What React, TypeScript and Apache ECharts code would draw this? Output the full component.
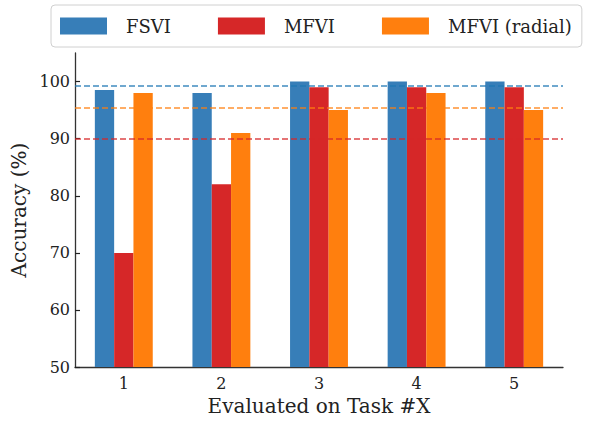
import React, { useEffect, useRef } from "react";
import * as echarts from "echarts";

// Tasks the model is evaluated on
const tasks = ["1", "2", "3", "4", "5"];

// Accuracy (%) per method, one value per task
const fsvi = [98.5, 98, 100, 100, 100];
const mfvi = [70, 82, 99, 99, 99];
const mfviRadial = [98, 91, 95, 98, 95];

// Reference accuracies drawn as dashed horizontal lines
const fsviRef = 99.35;
const mfviRef = 89.9;
const mfviRadialRef = 95.4;

// Y-axis tick values
const yTicks = [50, 60, 70, 80, 90, 100];

const FONT = "DejaVu Serif";
const C_BLUE = "#377eb8";
const C_RED = "#d62728";
const C_ORANGE = "#ff7f0e";

function refLine(value: number, color: string) {
  return {
    silent: true,
    symbol: "none",
    label: { show: false },
    lineStyle: { color, width: 1.5, type: [6, 3], opacity: 0.85 },
    data: [{ yAxis: value }],
    z: 10,
  };
}

export default function App() {
  const ref = useRef<HTMLDivElement>(null);

  useEffect(() => {
    if (!ref.current) return;
    const chart = echarts.init(ref.current, undefined, { renderer: "svg" });
    chart.setOption({
      animation: false,
      backgroundColor: "#ffffff",
      grid: { left: 75, top: 53, right: 27, bottom: 50.3, containLabel: false },
      legend: {
        left: 51,
        top: 5,
        orient: "horizontal",
        selectedMode: false,
        icon: "rect",
        itemWidth: 47,
        itemHeight: 17,
        itemGap: 47,
        padding: [12, 10, 12, 9],
        borderColor: "#d0d0d0",
        borderWidth: 1,
        borderRadius: 4,
        textStyle: {
          fontFamily: FONT,
          fontSize: 18,
          color: "#222",
          padding: [0, 0, 0, 14],
        },
        data: ["FSVI", "MFVI", "MFVI (radial)"],
      },
      xAxis: {
        type: "category",
        data: tasks,
        name: "Evaluated on Task #X",
        nameLocation: "middle",
        nameGap: 26,
        nameTextStyle: { fontFamily: FONT, fontSize: 20, color: "#222" },
        axisLine: { lineStyle: { color: "#333", width: 1.3 } },
        axisTick: { inside: true, alignWithLabel: true, length: 5, lineStyle: { color: "#222", width: 1.2 } },
        axisLabel: { fontFamily: FONT, fontSize: 16, color: "#222", margin: 8 },
        splitLine: { show: false },
      },
      yAxis: {
        type: "value",
        min: 50,
        max: 105,
        interval: 10,
        name: "Accuracy (%)",
        nameLocation: "middle",
        nameGap: 38,
        nameRotate: 90,
        nameTextStyle: { fontFamily: FONT, fontSize: 20, color: "#222" },
        axisLine: { show: true, lineStyle: { color: "#333", width: 1.3 } },
        axisTick: {
          show: true,
          inside: true,
          length: 5,
          customValues: yTicks,
          lineStyle: { color: "#222", width: 1.2 },
        },
        axisLabel: {
          fontFamily: FONT,
          fontSize: 16,
          color: "#222",
          margin: 5,
          customValues: yTicks,
        },
        splitLine: { show: false },
      },
      series: [
        {
          name: "FSVI",
          type: "bar",
          data: fsvi,
          barWidth: 19.3,
          barGap: "0%",
          itemStyle: { color: C_BLUE },
          markLine: refLine(fsviRef, "#1f77b4"),
        },
        {
          name: "MFVI",
          type: "bar",
          data: mfvi,
          barWidth: 19.3,
          barGap: "0%",
          itemStyle: { color: C_RED },
          markLine: refLine(mfviRef, C_RED),
        },
        {
          name: "MFVI (radial)",
          type: "bar",
          data: mfviRadial,
          barWidth: 19.3,
          barGap: "0%",
          itemStyle: { color: C_ORANGE },
          markLine: refLine(mfviRadialRef, C_ORANGE),
        },
      ],
    });
    return () => chart.dispose();
  }, []);

  return (
    <div
      ref={ref}
      style={{ position: "fixed", left: 0, top: 0, width: 590, height: 421 }}
    />
  );
}
